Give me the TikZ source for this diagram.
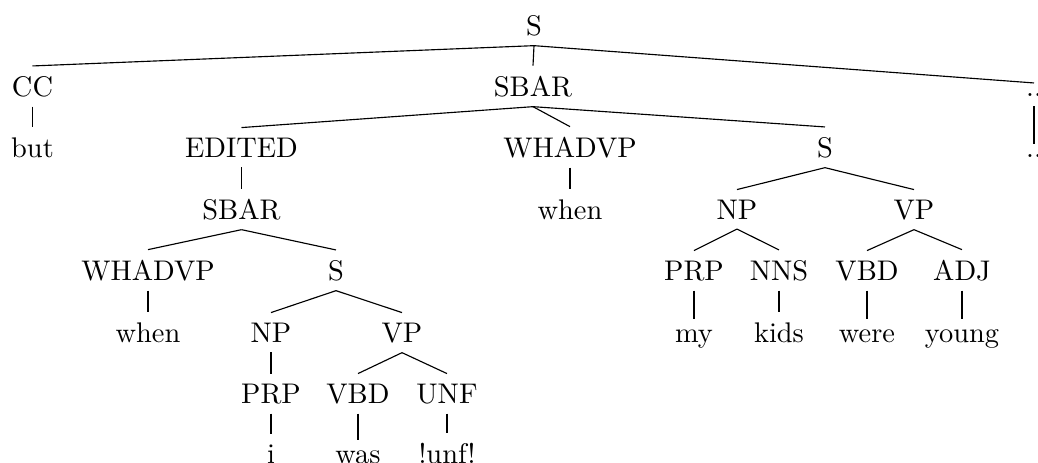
\documentclass[tikz,border=0pt]{standalone}
\begin{document}
\begin{tikzpicture}[x=0.35211pt,y=-0.35211pt,
  tn/.style={anchor=base,inner sep=0.3333em},
  edge/.style={line width=0.4pt}]
\useasboundingbox (0,0) rectangle (1038,462);
% row baselines: 35, 96, 157, 219, 280, 342, 403, 463
\node[tn] (S0) at (534,35) {S};
\node[tn] (CC) at (32.5,96) {CC};
\node[tn] (SBAR1) at (533,96) {SBAR};
\node[tn] (DOT1) at (1034,96) {..};
\node[tn] (but) at (32.5,157) {but};
\node[tn] (EDITED) at (241.5,157) {EDITED};
\node[tn] (WHADVP1) at (570,157) {WHADVP};
\node[tn] (S1) at (825,157) {S};
\node[tn] (DOT2) at (1034,157) {..};
\node[tn] (SBAR2) at (241.5,219) {SBAR};
\node[tn] (when1) at (570,219) {when};
\node[tn] (NP1) at (737,219) {NP};
\node[tn] (VP1) at (914,219) {VP};
\node[tn] (WHADVP2) at (148,280) {WHADVP};
\node[tn] (S2) at (336,280) {S};
\node[tn] (PRP1) at (694,280) {PRP};
\node[tn] (NNS) at (779,280) {NNS};
\node[tn] (VBD1) at (867,280) {VBD};
\node[tn] (ADJ) at (962,280) {ADJ};
\node[tn] (when2) at (148,342) {when};
\node[tn] (NP2) at (271,342) {NP};
\node[tn] (VP2) at (402,342) {VP};
\node[tn] (my) at (694,342) {my};
\node[tn] (kids) at (779,342) {kids};
\node[tn] (were) at (867,342) {were};
\node[tn] (young) at (962,342) {young};
\node[tn] (PRP2) at (271,403) {PRP};
\node[tn] (VBD2) at (358,403) {VBD};
\node[tn] (UNF) at (447,403) {UNF};
\node[tn] (i) at (271,463) {i};
\node[tn] (was) at (358,463) {was};
\node[tn] (unf) at (447,463) {!unf!};
\foreach \p/\c in {S0/CC,S0/SBAR1,S0/DOT1,CC/but,DOT1/DOT2,
  SBAR1/EDITED,SBAR1/WHADVP1,SBAR1/S1,WHADVP1/when1,S1/NP1,S1/VP1,
  EDITED/SBAR2,SBAR2/WHADVP2,SBAR2/S2,WHADVP2/when2,S2/NP2,S2/VP2,
  NP2/PRP2,VP2/VBD2,VP2/UNF,PRP2/i,VBD2/was,UNF/unf,
  NP1/PRP1,NP1/NNS,VP1/VBD1,VP1/ADJ,PRP1/my,NNS/kids,VBD1/were,ADJ/young}
  \draw[edge] (\p.south) -- (\c.north);
\end{tikzpicture}
\end{document}
